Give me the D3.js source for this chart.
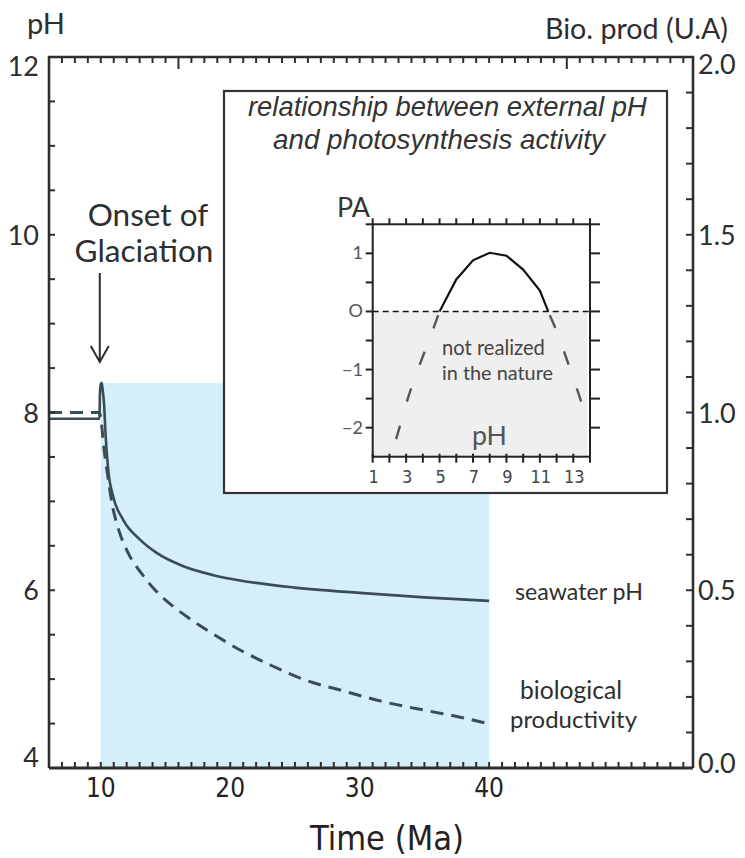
<!DOCTYPE html>
<html><head><meta charset="utf-8">
<script src="https://cdn.jsdelivr.net/npm/d3@7"></script>
<style>body{margin:0;background:#fff} svg{display:block}</style>
</head><body>
<svg id="c" width="745" height="858"></svg>
<script>
// ---------------- data ----------------
const pHTicks = [4, 6, 8, 10, 12];
const bioTicks = [0.0, 0.5, 1.0, 1.5, 2.0];
const timeTicks = [10, 20, 30, 40];
const glaciation = [10, 40];          // shaded interval (Ma)
const glaciationTopPH = 8.33;         // top of shaded area (pH)

const seawaterT  = [6, 9.9, 9.93, 10.0, 10.07, 10.15, 10.25, 10.38, 10.58, 10.97, 11.74, 13.03, 14.32, 16.38, 18.7, 20.76, 25, 30, 35, 40];
const seawaterPH = [7.93, 7.93, 8.2, 8.32, 8.335, 8.25, 8.10, 7.73, 7.35, 7.05, 6.79, 6.57, 6.42, 6.27, 6.17, 6.11, 6.03, 5.97, 5.92, 5.88];

const bioT = [6, 9.9, 10.02, 10.23, 10.54, 10.89, 11.41, 12.11, 13.09, 14.19, 15.54, 16.64, 18.5, 20.76, 23.08, 25.78, 28.72, 31.66, 35.37, 37.76, 40];
const bioV = [1.0, 1.0, 0.979, 0.904, 0.821, 0.740, 0.667, 0.605, 0.550, 0.501, 0.456, 0.426, 0.381, 0.332, 0.290, 0.2475, 0.217, 0.188, 0.160, 0.143, 0.124];

// inset: photosynthesis activity vs pH
const insetPH = [5, 6, 7, 8, 9, 10, 11, 11.5];
const insetPA = [0, 0.55, 0.88, 1.01, 0.96, 0.72, 0.36, 0];
const insetLeftPH = [5, 4.3, 3.7, 3.1, 2.7, 2.3];
const insetLeftPA = [0, -0.55, -1.0, -1.5, -1.9, -2.3];
const insetRightPH = [11.5, 12.1, 12.7, 13.3, 13.8];
const insetRightPA = [0, -0.4, -0.9, -1.4, -1.85];
const insetXTicks = [1, 3, 5, 7, 9, 11, 13];
const insetYTicks = [-2, -1, 0, 1];
const insetYLabels = ["−2", "−1", "O", "1"];

// ---------------- layout ----------------
const svg = d3.select("#c");
const L = 49, R = 693, T = 57, B = 768;
const x = d3.scaleLinear().domain([6, 55.75]).range([L, R]);
const yPH = d3.scaleLinear().domain([4, 12]).range([B, T]);
const yBio = d3.scaleLinear().domain([0, 2]).range([B, T]);
const ink = "#2e2e2e", curveCol = "#3a4c55";
const sans = "Lato, 'Open Sans', sans-serif";
const cond = "'DejaVu Sans Condensed', 'Liberation Sans Narrow', 'DejaVu Sans', sans-serif";

function fit(sel, w) {
  const fs = parseFloat(sel.attr("font-size"));
  const len = sel.node().getComputedTextLength();
  sel.attr("font-size", (fs * w / len).toFixed(2));
  return sel;
}

// shaded glaciation period
svg.append("rect")
  .attr("x", x(glaciation[0])).attr("width", x(glaciation[1]) - x(glaciation[0]))
  .attr("y", yPH(glaciationTopPH)).attr("height", B - yPH(glaciationTopPH))
  .attr("fill", "#d4eefa");

// curves
const lineSW = d3.line().x((d, i) => x(seawaterT[i])).y(d => yPH(d)).curve(d3.curveMonotoneX);
svg.append("path").attr("d", lineSW(seawaterPH)).attr("fill", "none")
  .attr("stroke", curveCol).attr("stroke-width", 2.6);
const lineBio = d3.line().x((d, i) => x(bioT[i])).y(d => yBio(d)).curve(d3.curveMonotoneX);
svg.append("path").attr("d", lineBio(bioV)).attr("fill", "none")
  .attr("stroke", curveCol).attr("stroke-width", 3).attr("stroke-dasharray", "13,8");

// ticks (inward)
const g = svg.append("g").attr("stroke", ink).attr("stroke-width", 2);
d3.range(7, 56).forEach(t => {
  const big = (t === 16 || t === 46);
  g.append("line").attr("x1", x(t)).attr("x2", x(t)).attr("y1", T).attr("y2", T + (big ? 12 : 6));
  g.append("line").attr("x1", x(t)).attr("x2", x(t)).attr("y1", B).attr("y2", B - 6);
});
d3.range(4.5, 12, 0.5).forEach(v => {
  g.append("line").attr("x1", L).attr("x2", L + 6).attr("y1", yPH(v)).attr("y2", yPH(v));
});
d3.range(1, 20).forEach(k => {
  const v = k / 10;
  g.append("line").attr("x1", R).attr("x2", R - 7).attr("y1", yBio(v)).attr("y2", yBio(v));
});
// frame
svg.append("path").attr("d", `M${L},${B}V${T}H${R}V${B}`).attr("fill", "none")
  .attr("stroke", ink).attr("stroke-width", 2.6);
svg.append("line").attr("x1", L).attr("x2", R).attr("y1", B).attr("y2", B)
  .attr("stroke", ink).attr("stroke-width", 3.2);

// tick labels
const lastPH = pHTicks.length - 1;
svg.append("g").selectAll("text").data(pHTicks).join("text")
  .attr("x", 39).attr("y", (d, i) => yPH(d) + (i === lastPH ? 19 : i === 0 ? -1 : 10))
  .attr("text-anchor", "end").attr("font-family", sans).attr("font-size", 27).attr("fill", ink)
  .text(d => d);
const lastBio = bioTicks.length - 1;
svg.append("g").selectAll("text").data(bioTicks).join("text")
  .attr("x", 698).attr("y", (d, i) => yBio(d) + (i === lastBio ? 17 : i === 0 ? 5 : 10))
  .attr("font-family", sans).attr("font-size", 27).attr("fill", ink)
  .text(d => d.toFixed(1));
svg.append("g").selectAll("text").data(timeTicks).join("text")
  .attr("x", d => x(d)).attr("y", 797).attr("text-anchor", "middle")
  .attr("font-family", cond).attr("font-size", 26).attr("fill", "#222")
  .text(d => d);

// axis titles
fit(svg.append("text").attr("x", 27).attr("y", 34).attr("font-family", sans).attr("font-size", 30)
  .attr("fill", ink).text("pH"), 38);
fit(svg.append("text").attr("x", 545).attr("y", 39).attr("font-family", sans).attr("font-size", 24)
  .attr("fill", ink).text("Bio. prod (U.A)"), 183);
fit(svg.append("text").attr("x", 310).attr("y", 850).attr("font-family", cond).attr("font-size", 32)
  .attr("fill", "#222").text("Time (Ma)"), 154);

// onset annotation
svg.append("text").attr("x", 148).attr("y", 226).attr("text-anchor", "middle")
  .attr("font-family", sans).attr("font-size", 31.5).attr("fill", ink).text("Onset of");
svg.append("text").attr("x", 144).attr("y", 262).attr("text-anchor", "middle")
  .attr("font-family", sans).attr("font-size", 31.5).attr("fill", ink).text("Glaciation");
const ax = x(glaciation[0]) - 1;
svg.append("path").attr("d", `M${ax},273V362M${ax - 9},346L${ax},362L${ax + 9},346`)
  .attr("fill", "none").attr("stroke", ink).attr("stroke-width", 2);

// series labels
fit(svg.append("text").attr("x", 515).attr("y", 600).attr("font-family", sans).attr("font-size", 22)
  .attr("fill", ink).text("seawater pH"), 128);
fit(svg.append("text").attr("x", 520).attr("y", 699).attr("font-family", sans).attr("font-size", 22)
  .attr("fill", ink).text("biological"), 102);
fit(svg.append("text").attr("x", 510).attr("y", 728).attr("font-family", sans).attr("font-size", 22)
  .attr("fill", ink).text("productivity"), 127);

// ---------------- inset ----------------
svg.append("rect").attr("x", 224).attr("y", 91).attr("width", 443).attr("height", 402)
  .attr("fill", "#fff").attr("stroke", "#333").attr("stroke-width", 2.2);
const ital = "'Liberation Sans', Arial, sans-serif";
fit(svg.append("text").attr("x", 248).attr("y", 116).attr("font-family", ital).attr("font-style", "italic")
  .attr("font-size", 27).attr("fill", "#333").text("relationship between external pH"), 399);
fit(svg.append("text").attr("x", 273).attr("y", 149).attr("font-family", ital).attr("font-style", "italic")
  .attr("font-size", 27).attr("fill", "#333").text("and photosynthesis activity"), 332);

const xi = d3.scaleLinear().domain([1, 14]).range([372.7, 590]);
const yi = d3.scaleLinear().domain([-2.5, 1.5]).range([456.7, 224.3]);
svg.append("rect").attr("x", xi(1)).attr("y", yi(0)).attr("width", xi(13.85) - xi(1))
  .attr("height", yi(-2.5) - yi(0)).attr("fill", "#efefef");

const gi = svg.append("g").attr("stroke", "#222").attr("stroke-width", 2);
d3.range(1, 15).forEach(v => {
  gi.append("line").attr("x1", xi(v)).attr("x2", xi(v)).attr("y1", yi(1.5)).attr("y2", yi(1.5) - 6);
  gi.append("line").attr("x1", xi(v)).attr("x2", xi(v)).attr("y1", yi(-2.5) - 3).attr("y2", yi(-2.5) + 6);
});
d3.range(-2.0, 1.5001, 0.5).forEach(v => {
  gi.append("line").attr("x1", xi(1)).attr("x2", xi(1) - 7).attr("y1", yi(v)).attr("y2", yi(v));
  gi.append("line").attr("x1", xi(14)).attr("x2", xi(14) + 10).attr("y1", yi(v)).attr("y2", yi(v));
});
svg.append("line").attr("x1", xi(1)).attr("x2", xi(14)).attr("y1", yi(0)).attr("y2", yi(0))
  .attr("stroke", "#111").attr("stroke-width", 1.5).attr("stroke-dasharray", "6,4");
svg.append("rect").attr("x", xi(1)).attr("y", yi(1.5)).attr("width", xi(14) - xi(1))
  .attr("height", yi(-2.5) - yi(1.5)).attr("fill", "none").attr("stroke", "#222").attr("stroke-width", 2);

const li = d3.line().x((d, i) => xi(insetPH[i])).y(d => yi(d));
svg.append("path").attr("d", li(insetPA)).attr("fill", "none").attr("stroke", "#111").attr("stroke-width", 2.2);
const liL = d3.line().x((d, i) => xi(insetLeftPH[i])).y(d => yi(d)).curve(d3.curveMonotoneY);
svg.append("path").attr("d", liL(insetLeftPA)).attr("fill", "none").attr("stroke", "#555")
  .attr("stroke-width", 2.4).attr("stroke-dasharray", "0,4,14,21");
const liR = d3.line().x((d, i) => xi(insetRightPH[i])).y(d => yi(d));
svg.append("path").attr("d", liR(insetRightPA)).attr("fill", "none").attr("stroke", "#555")
  .attr("stroke-width", 2.4).attr("stroke-dasharray", "0,4,14,21");

svg.append("g").selectAll("text").data(insetYTicks).join("text")
  .attr("x", 363).attr("y", d => yi(d) + 6).attr("text-anchor", "end")
  .attr("font-family", sans).attr("font-size", 18).attr("fill", "#555")
  .text((d, i) => insetYLabels[i]);
svg.append("g").selectAll("text").data(insetXTicks).join("text")
  .attr("x", d => xi(d) + 1).attr("y", 483).attr("text-anchor", "middle")
  .attr("font-family", cond).attr("font-size", 18).attr("fill", "#444")
  .text(d => d);
fit(svg.append("text").attr("x", 337).attr("y", 217).attr("font-family", sans).attr("font-size", 26)
  .attr("fill", "#333").text("PA"), 33);
fit(svg.append("text").attr("x", 472).attr("y", 445).attr("font-family", sans).attr("font-size", 28)
  .attr("fill", "#555").text("pH"), 35);
fit(svg.append("text").attr("x", 442).attr("y", 355).attr("font-family", sans).attr("font-size", 17)
  .attr("fill", "#444").text("not realized"), 103);
fit(svg.append("text").attr("x", 442).attr("y", 380).attr("font-family", sans).attr("font-size", 17)
  .attr("fill", "#444").text("in the nature"), 111);
</script>
</body></html>
